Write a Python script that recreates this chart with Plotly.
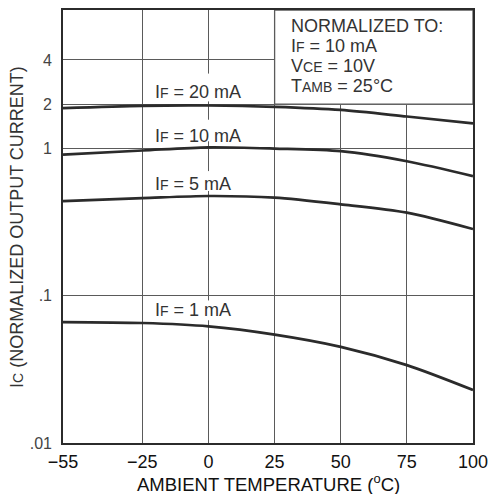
import plotly.graph_objects as go
import math

# ---- data ----
temp_c = [-55, -25, 0, 25, 50, 75, 100]
ic_if20 = [1.88, 1.95, 1.96, 1.92, 1.83, 1.65, 1.48]
ic_if10 = [0.91, 0.97, 1.02, 1.00, 0.96, 0.82, 0.65]
ic_if5 = [0.44, 0.46, 0.476, 0.464, 0.418, 0.367, 0.284]
ic_if1 = [0.0663, 0.0653, 0.0620, 0.0545, 0.045, 0.0338, 0.0229]
series = [("20", ic_if20), ("10", ic_if10), ("5", ic_if5), ("1", ic_if1)]

x_tickvals = [-55, -25, 0, 25, 50, 75, 100]
x_ticktext = ["\u221255", "\u221225", "0", "25", "50", "75", "100"]
y_tickvals = [0.01, 0.1, 1, 2, 4]
y_ticktext = [".01", ".1", "1", "2", "4"]

# label anchor values for the curve labels
label_y = {"20": 2.42, "10": 1.21, "5": 0.575, "1": 0.0795}
# vertical extent of the gap each label cuts into the 0 degC gridline
label_gap = {"20": (2.09, 3.23), "10": (1.12, 1.57), "5": (0.515, 0.703), "1": (0.0682, 0.093)}

FONT = "Liberation Sans, Arial, Helvetica, sans-serif"
INK = "#2b2b2b"
GRID = "#5a5a5a"

# page body has an 8px margin; plot area (page px): x 63..473, y 8..443
PH = 435.0


def py(page_y):
    return (443 - page_y) / PH


def px(page_x):
    return (page_x - 63) / 410.0


fig = go.Figure()
for name, vals in series:
    fig.add_trace(go.Scatter(
        x=temp_c, y=vals, mode="lines",
        line=dict(color=INK, width=2.7, shape="spline", smoothing=0.8),
        showlegend=False, hoverinfo="skip"))

small = '<span style="font-size:14px">'
for name, vals in series:
    fig.add_annotation(
        x=-20.8, y=math.log10(label_y[name]), xref="x", yref="y",
        text=f'I{small}F</span> = {name} mA',
        showarrow=False, xanchor="left", yanchor="middle",
        font=dict(family=FONT, size=18, color="#333"))
    g0, g1 = label_gap[name]
    fig.add_shape(type="rect", xref="x", yref="y", x0=-2, x1=2, y0=g0, y1=g1,
                  fillcolor="white", line=dict(width=0), layer="between")

# normalization box (white panel covering the gridlines)
ymax = 10 ** 0.941
fig.add_shape(type="rect", xref="x", yref="y", x0=25, x1=100, y0=2, y1=ymax,
              fillcolor="white", line=dict(color=GRID, width=1.3), layer="between")

box_lines = [
    "NORMALIZED TO:",
    f"I{small}F</span> = 10 mA",
    f"V{small}CE</span> = 10V",
    f"T{small}AMB</span> = 25\u00b0C",
]
box_y_px = [24, 44, 64, 84]
for txt, ypx in zip(box_lines, box_y_px):
    fig.add_annotation(
        x=px(289), y=py(ypx), xref="paper", yref="paper",
        text=txt, showarrow=False, xanchor="left", yanchor="middle",
        font=dict(family=FONT, size=18, color="#333"))

# axis titles
fig.add_annotation(
    x=px(17), y=py(226), xref="paper", yref="paper",
    text=f'I{small}C</span> (NORMALIZED OUTPUT CURRENT)', textangle=-90,
    showarrow=False, xanchor="center", yanchor="middle",
    font=dict(family=FONT, size=18, color="#333"))
fig.add_annotation(
    x=0.5, y=py(483), xref="paper", yref="paper",
    text="AMBIENT TEMPERATURE (<sup>o</sup>C)",
    showarrow=False, xanchor="center", yanchor="middle",
    font=dict(family=FONT, size=18.5, color="#111"))

fig.update_layout(
    width=492, height=486,
    margin=dict(l=55, r=27, t=0, b=51),
    paper_bgcolor="white", plot_bgcolor="white",
    font=dict(family=FONT, color=INK),
)
fig.update_xaxes(
    range=[-55, 100], tickvals=x_tickvals, ticktext=x_ticktext,
    showgrid=True, gridcolor=GRID, gridwidth=1.3, zeroline=False,
    showline=True, linecolor=INK, linewidth=1.6, mirror=True,
    ticks="", ticklabelstandoff=2,
    tickfont=dict(family=FONT, size=18, color="#111"))
fig.update_yaxes(
    type="log", range=[-2, 0.941], tickvals=y_tickvals, ticktext=y_ticktext,
    showgrid=True, gridcolor=GRID, gridwidth=1.3, zeroline=False,
    showline=True, linecolor=INK, linewidth=1.6, mirror=True,
    ticks="", ticklabelstandoff=6,
    tickfont=dict(family=FONT, size=16, color="#444"))

fig.write_html("out.html")
